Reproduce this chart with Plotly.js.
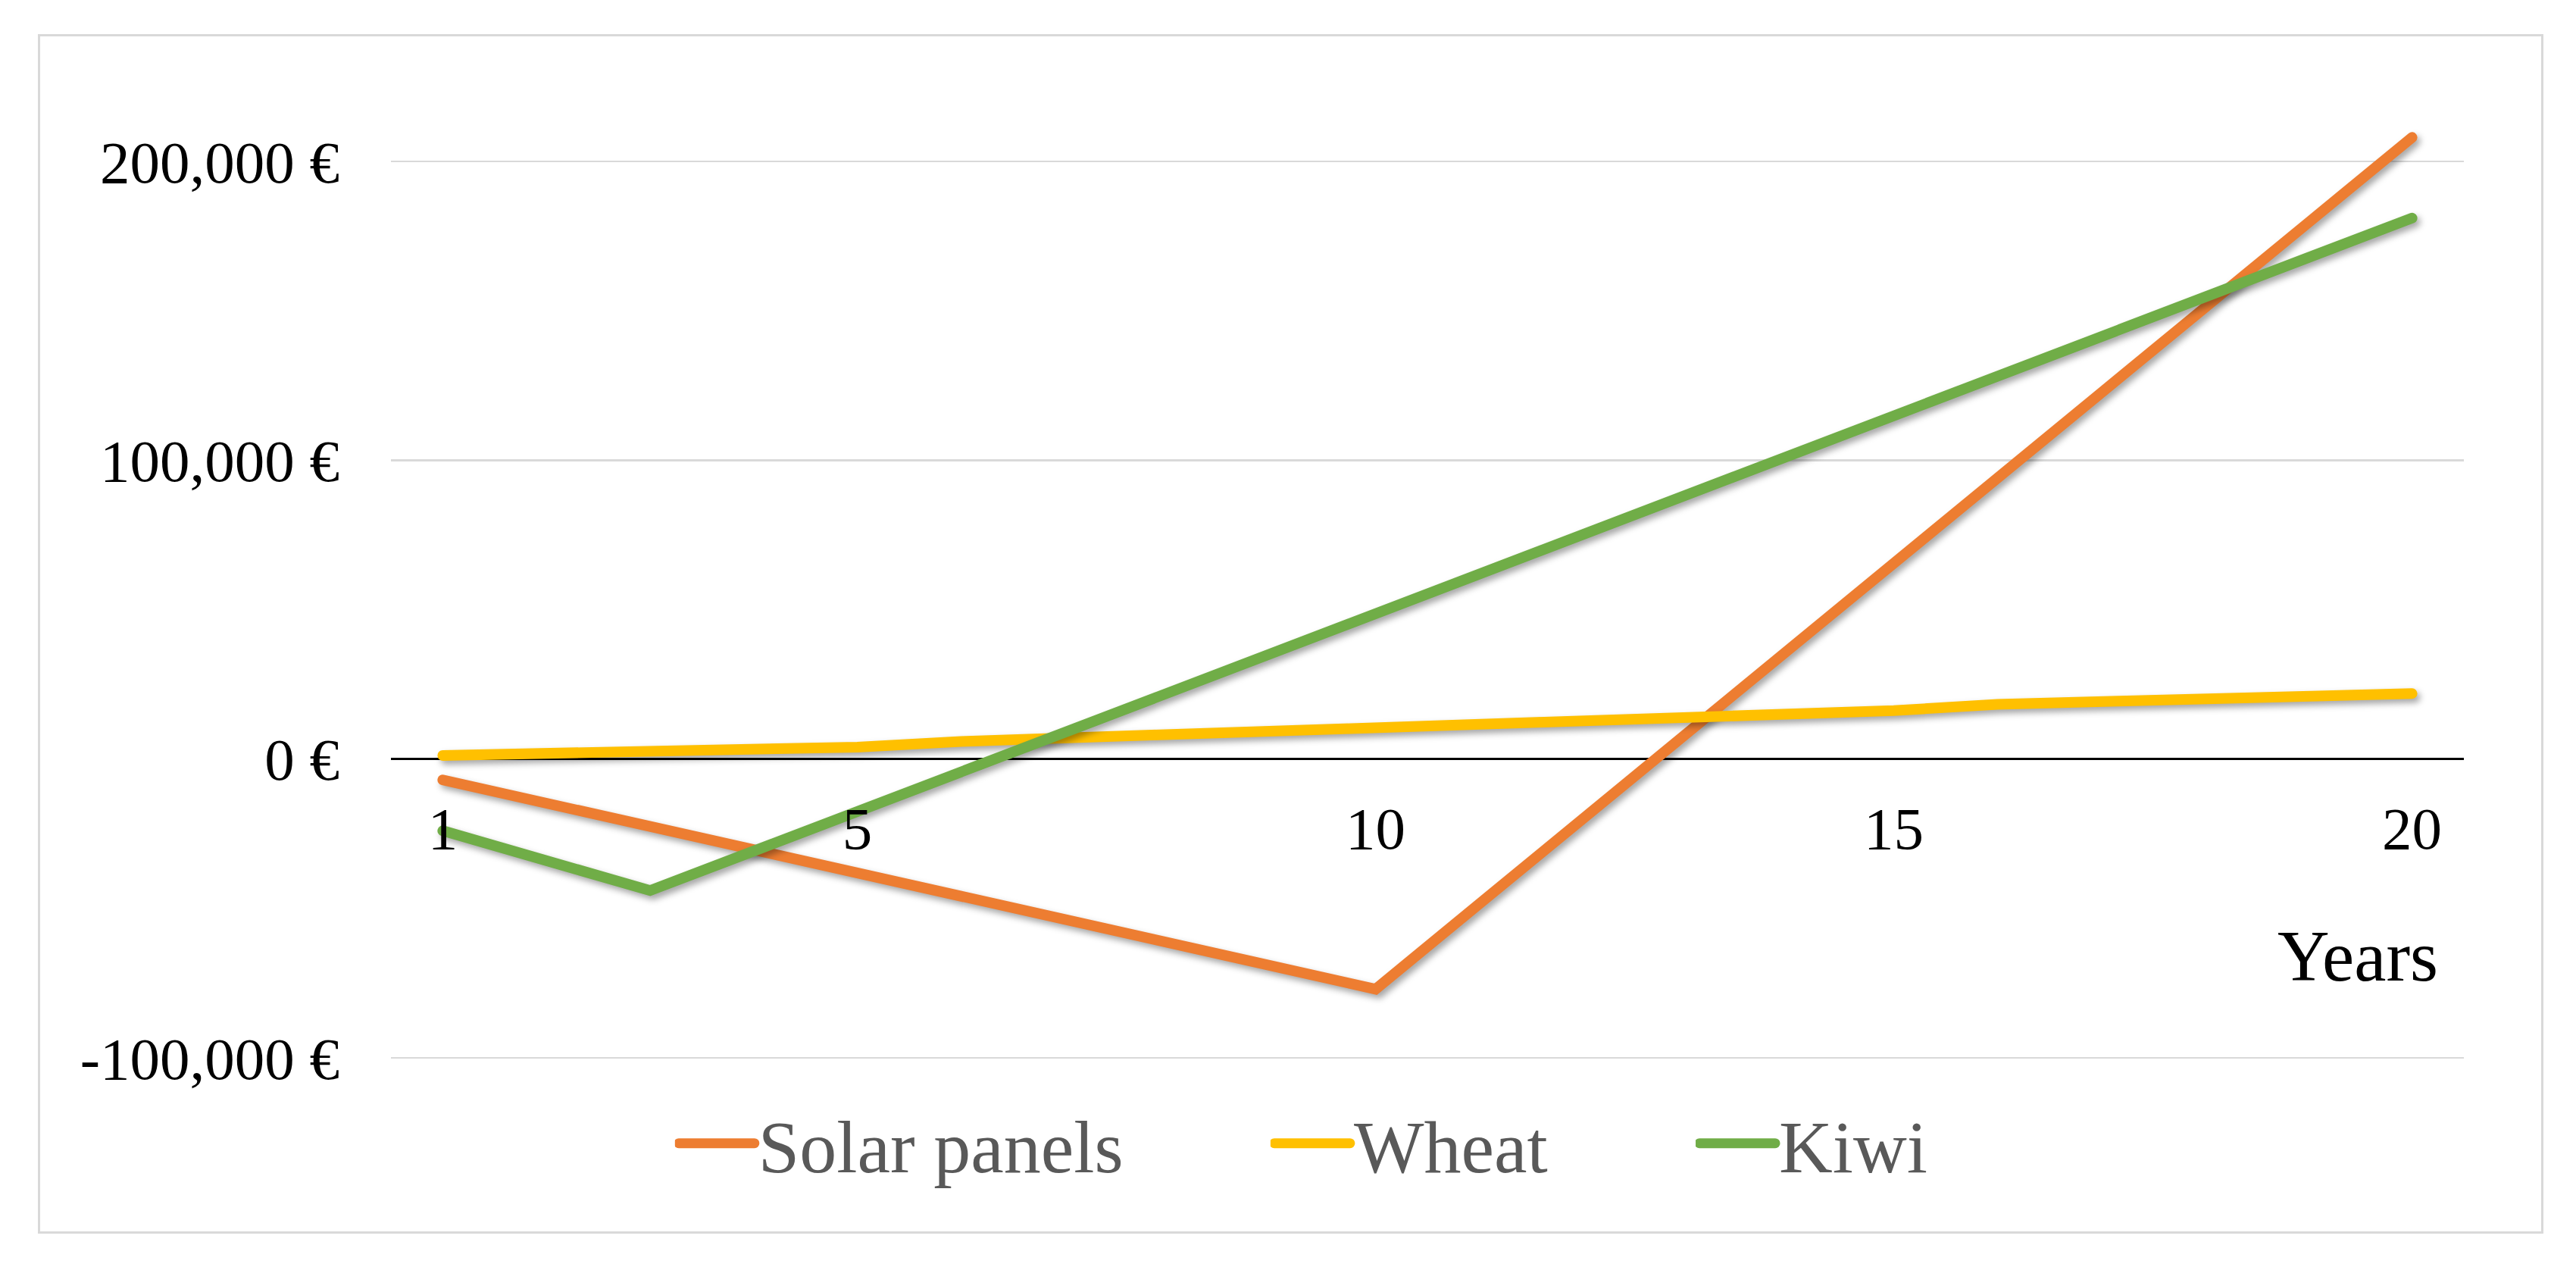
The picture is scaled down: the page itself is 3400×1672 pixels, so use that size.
<!DOCTYPE html>
<html>
<head>
<meta charset="utf-8">
<script src="https://cdn.plot.ly/plotly-3.0.1.min.js"></script>
<style>
html,body{margin:0;padding:0;background:#fff;}
#wrap{position:relative;width:3400px;height:1672px;}
#chart{position:absolute;left:0;top:0;width:3400px;height:1672px;}
#frame{position:absolute;left:50px;top:45px;width:3301px;height:1577px;border:3px solid #d9d9d9;pointer-events:none;}
#chart .scatterlayer .js-line{filter:drop-shadow(4px 5px 4px rgba(0,0,0,0.35));stroke-linecap:round;}
#chart .legendlines path{stroke-width:13px !important;stroke-linecap:round;}
</style>
</head>
<body>
<div id="wrap"><div id="chart"></div><div id="frame"></div></div>
<script>
// ---- data ----
const years = [1,2,3,4,5,6,7,8,9,10,11,12,13,14,15,16,17,18,19,20];
const solarPanels = [-7000,-14800,-22600,-30300,-38100,-45900,-53700,-61400,-69200,-77000,
                     -48500,-20000,8500,37000,65500,94000,122500,151000,179500,208000];
const wheat = [1200,1900,2600,3300,4000,5900,7000,8100,9200,10600,
               12000,13200,14300,15200,16200,18300,19300,20300,21100,21900];
const kiwi = [-24000,-34000,-44000,-30800,-17500,-4300,9000,22200,35400,48700,
              61900,75100,88400,101600,114800,128100,141300,154500,167800,181000];
const seriesNames = ["Solar panels","Wheat","Kiwi"];
const xTickVals = [1,5,10,15,20];
const xTickText = ["1","5","10","15","20"];
const yTickVals = [-100000,0,100000,200000];
const yTickText = ["-100,000 €","0 €","100,000 €","200,000 €"];
const xTitle = "Years";

const colors = ["#ED7D31","#FFC000","#70AD47"];
const serif = "Liberation Serif, Times New Roman, serif";

const traces = [solarPanels, wheat, kiwi].map((vals, i) => ({
  type: "scatter", mode: "lines",
  x: years, y: vals, name: seriesNames[i],
  line: {color: colors[i], width: 14},
  legend: i === 0 ? "legend" : "legend" + (i + 1),
  hoverinfo: "skip"
}));

const legendBase = {
  orientation: "h", xanchor: "left", yanchor: "middle", y: -0.0861,
  font: {family: serif, size: 98, color: "#595959"},
  bgcolor: "rgba(0,0,0,0)", borderwidth: 0, itemwidth: 100
};

const layout = {
  width: 3400, height: 1672,
  margin: {l: 516, r: 148, t: 134, b: 272, pad: 0},
  paper_bgcolor: "rgba(0,0,0,0)", plot_bgcolor: "rgba(0,0,0,0)",
  font: {family: serif, size: 79, color: "#000"},
  showlegend: true,
  xaxis: {
    range: [0.5, 20.5], tickmode: "array", tickvals: xTickVals, ticktext: xTickText,
    showgrid: false, zeroline: false, showline: false, ticks: "",
    anchor: "free", position: 0.31464, ticklabelstandoff: 38,
    tickfont: {family: serif, size: 79, color: "#000"}
  },
  yaxis: {
    range: [-101000, 220000], tickmode: "array", tickvals: yTickVals, ticktext: yTickText,
    showgrid: true, gridcolor: "#d9d9d9", gridwidth: 2.5,
    zeroline: true, zerolinecolor: "#000", zerolinewidth: 3,
    showline: false, ticks: "", ticklabelstandoff: 67,
    tickfont: {family: serif, size: 79, color: "#000"}
  },
  legend: Object.assign({}, legendBase, {x: 0.137}),
  legend2: Object.assign({}, legendBase, {x: 0.4243}),
  legend3: Object.assign({}, legendBase, {x: 0.6294}),
  annotations: [{
    text: xTitle, xref: "paper", yref: "paper", x: 0.9883, y: 0.109,
    xanchor: "right", yanchor: "middle", showarrow: false,
    font: {family: serif, size: 95, color: "#000"}
  }]
};

Plotly.newPlot("chart", traces, layout, {staticPlot: true, displayModeBar: false});
</script>
</body>
</html>
